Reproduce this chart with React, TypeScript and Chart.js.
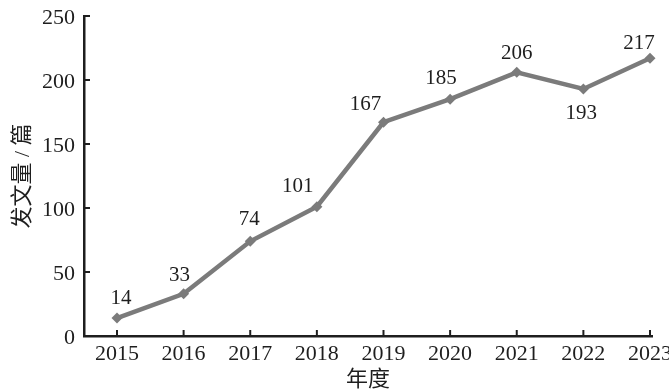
import React, { useEffect, useRef } from "react";
import { Chart, registerables } from "chart.js";

Chart.register(...registerables);

const years = [2015, 2016, 2017, 2018, 2019, 2020, 2021, 2022, 2023];
const counts = [14, 33, 74, 101, 167, 185, 206, 193, 217];
const yTicks = [0, 50, 100, 150, 200, 250];
const yTitle = "发文量 / 篇";
const xTitle = "年度";

// label placement relative to each point (style only)
const labelDx = [4, -4, -1, -19, -18, -9, 0, -2, -11];
const labelDy = [-20, -18, -22, -20, -18, -21, -19, 25, -15];

const FONT = '"Liberation Serif", "Times New Roman", "Noto Sans CJK SC", serif';
const INK = "#1e1e1e";
const LINE = "#7b7b7b";

const innerTicks = {
  id: "innerTicks",
  afterDraw(chart: any) {
    const { ctx, chartArea } = chart;
    const xs = chart.scales.x;
    const ys = chart.scales.y;
    ctx.save();
    ctx.strokeStyle = INK;
    ctx.lineWidth = 2;
    years.forEach((yr) => {
      const px = xs.getPixelForValue(yr);
      ctx.beginPath();
      ctx.moveTo(px, chartArea.bottom);
      ctx.lineTo(px, chartArea.bottom - 6);
      ctx.stroke();
    });
    yTicks.forEach((v) => {
      const py = ys.getPixelForValue(v);
      ctx.beginPath();
      ctx.moveTo(chartArea.left, py);
      ctx.lineTo(chartArea.left + 6, py);
      ctx.stroke();
    });
    ctx.restore();
  },
};

const pointLabels = {
  id: "pointLabels",
  afterDatasetsDraw(chart: any) {
    const { ctx } = chart;
    const meta = chart.getDatasetMeta(0);
    ctx.save();
    ctx.font = `21px ${FONT}`;
    ctx.fillStyle = INK;
    ctx.textAlign = "center";
    ctx.textBaseline = "middle";
    meta.data.forEach((pt: any, i: number) => {
      ctx.fillText(String(counts[i]), pt.x + labelDx[i], pt.y + labelDy[i]);
    });
    ctx.restore();
  },
};

export default function App() {
  const ref = useRef<HTMLCanvasElement>(null);
  useEffect(() => {
    document.body.style.margin = "0";
    const chart = new Chart(ref.current!, {
      type: "line",
      data: {
        datasets: [
          {
            data: years.map((yr, i) => ({ x: yr, y: counts[i] })),
            borderColor: LINE,
            backgroundColor: LINE,
            borderWidth: 4.5,
            pointStyle: "rectRot",
            pointRadius: 5.5,
            pointBackgroundColor: LINE,
            pointBorderColor: LINE,
            pointBorderWidth: 0,
            tension: 0,
            clip: false as any,
          },
        ],
      },
      options: {
        responsive: false,
        animation: false,
        layout: { padding: { top: 16, right: 17, left: 0, bottom: 0 } },
        plugins: { legend: { display: false }, tooltip: { enabled: false } },
        scales: {
          x: {
            type: "linear",
            min: 2014.505,
            max: 2023.03,
            afterFit(s: any) {
              s.height = 54;
              s.paddingLeft = 0;
              s.paddingRight = 0;
            },
            afterBuildTicks(s: any) {
              s.ticks = years.map((v) => ({ value: v }));
            },
            grid: { display: true, drawOnChartArea: false, drawTicks: false },
            border: { display: true, color: INK, width: 2.5 },
            ticks: {
              padding: 5,
              color: INK,
              font: { family: FONT, size: 22 },
              callback: (v: any) => String(v),
              autoSkip: false,
              maxRotation: 0,
            },
            title: {
              display: true,
              text: xTitle,
              color: INK,
              font: { family: FONT, size: 22, lineHeight: 1 },
              padding: { top: 0, bottom: -1 },
            },
          },
          y: {
            min: 0,
            max: 250,
            afterFit(s: any) {
              s.width = 84;
              s.paddingTop = 0;
              s.paddingBottom = 0;
            },
            afterBuildTicks(s: any) {
              s.ticks = yTicks.map((v) => ({ value: v }));
            },
            grid: { display: true, drawOnChartArea: false, drawTicks: false },
            border: { display: true, color: INK, width: 2.5 },
            ticks: {
              padding: 9,
              labelOffset: 2,
              color: INK,
              font: { family: FONT, size: 22 },
            },
            title: {
              display: true,
              text: yTitle,
              color: INK,
              font: { family: FONT, size: 22, lineHeight: 1.2 },
              padding: { top: 10, bottom: 0 },
            },
          },
        },
      },
      plugins: [innerTicks, pointLabels],
    });
    return () => chart.destroy();
  }, []);
  return <canvas ref={ref} width={669} height={390} style={{ display: "block" }} />;
}
